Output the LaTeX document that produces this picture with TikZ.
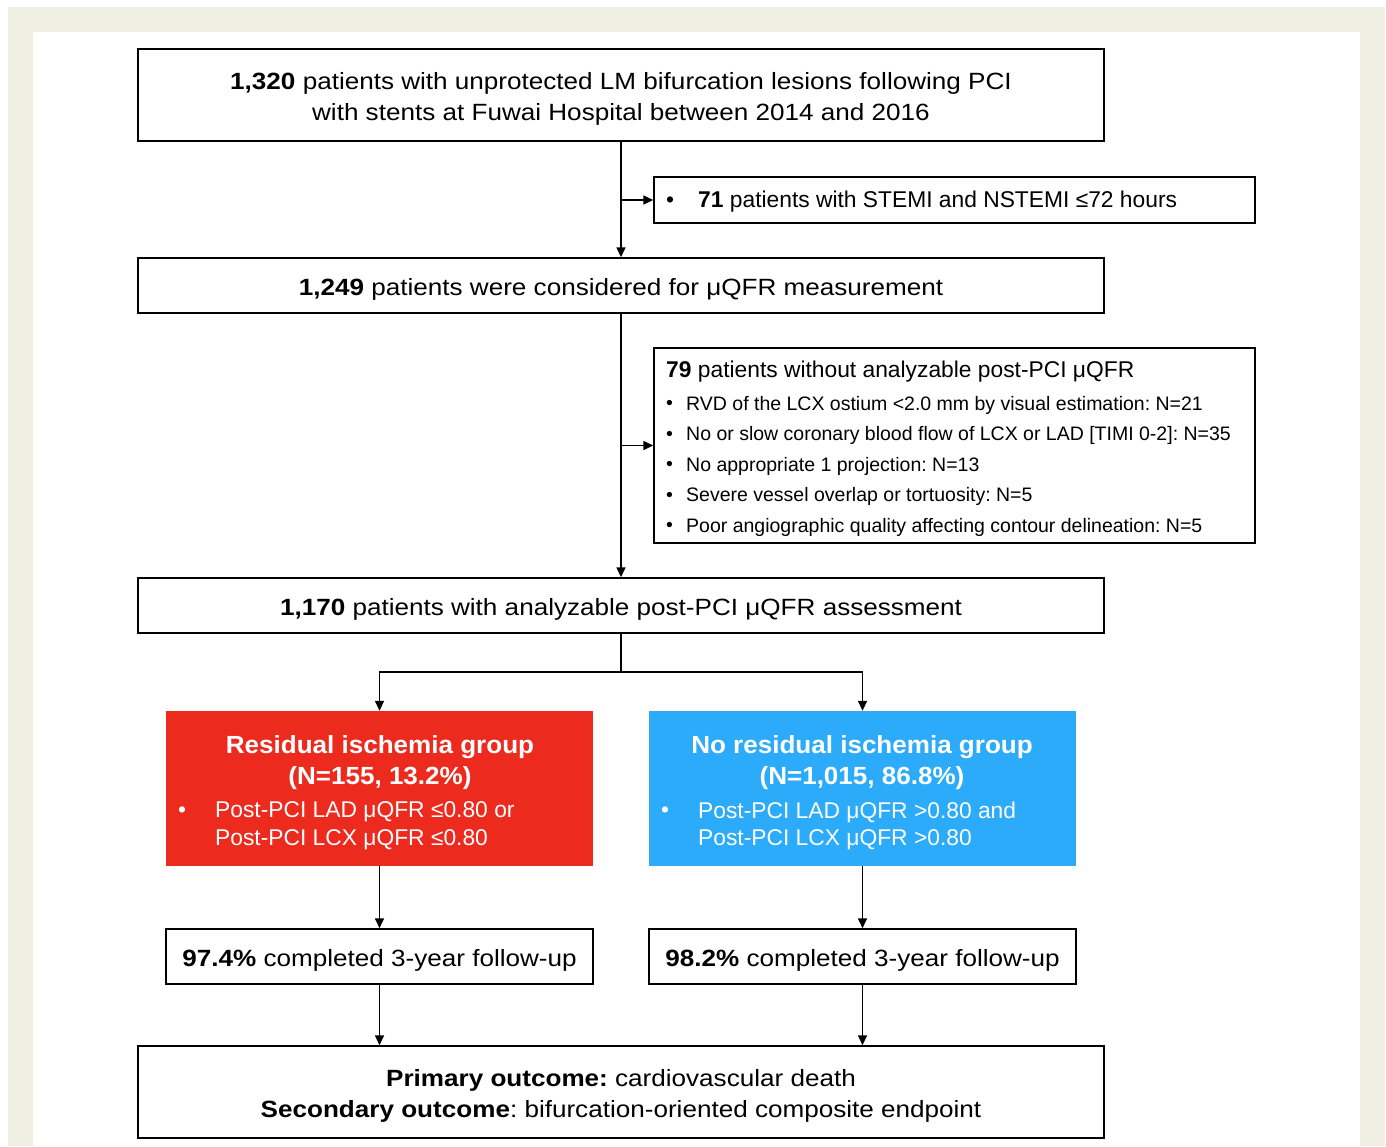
\documentclass[tikz,border=0pt]{standalone}
\usepackage{fontspec}
\setmainfont{Liberation Sans}
\newfontfamily\widef{Liberation Sans}[FakeStretch=1.11]
\newfontfamily\titlef{Liberation Sans}[FakeStretch=1.05]
\usetikzlibrary{arrows.meta}
\definecolor{beige}{HTML}{EFEFE3}
\definecolor{redbox}{HTML}{EC2A1E}
\definecolor{bluebox}{HTML}{2BABFA}
\frenchspacing
\tikzset{
  box/.style={draw=black, line width=1.5pt, rectangle, inner sep=0pt, fill=white},
  colbox/.style={rectangle, inner sep=0pt},
  conn/.style={line width=1.6pt, -{Triangle[length=10pt,width=9pt]}},
  plain/.style={line width=1.6pt},
  bigtxt/.style={font=\frenchspacing\widef\fontsize{23.5}{31}\selectfont, align=center, inner sep=0pt},
  midtxt/.style={font=\frenchspacing\fontsize{22.8}{28}\selectfont, inner sep=0pt, anchor=west},
  smalltxt/.style={font=\frenchspacing\fontsize{19.5}{24}\selectfont, inner sep=0pt, anchor=west},
  whitetitle/.style={font=\frenchspacing\titlef\fontsize{24.8}{31}\selectfont\bfseries, text=white, align=center, inner sep=0pt},
  whitetxt/.style={font=\frenchspacing\fontsize{22.8}{28}\selectfont, text=white, inner sep=0pt, anchor=west},
}
\begin{document}
\begin{tikzpicture}[x=1pt,y=-1pt]
\useasboundingbox (0,0) rectangle (1386,1146);
\fill[white] (0,0) rectangle (1386,1146);
\fill[beige] (8,7) rectangle (1385,1146);
\fill[white] (33,32) rectangle (1360,1146);

% main boxes
\node[box, minimum width=966pt, minimum height=92pt] (b1) at (621,95) {};
\node[bigtxt] (b1t) at (621,99) {\textbf{1,320} patients with unprotected LM bifurcation lesions following PCI\\with stents at Fuwai Hospital between 2014 and 2016};

\node[box, minimum width=601pt, minimum height=46pt] (ex1) at (954.5,200) {};
\node[midtxt] (ex1b) at (666,202) {•};
\node[midtxt] (ex1t) at (698,202) {\textbf{71} patients with STEMI and NSTEMI ≤72 hours};

\node[box, minimum width=966pt, minimum height=55pt] (b2) at (621,285.5) {};
\node[bigtxt] (b2t) at (621,289) {\textbf{1,249} patients were considered for μQFR measurement};

\node[box, minimum width=601pt, minimum height=195pt] (ex2) at (954.5,445.5) {};
\node[midtxt] (ex2h) at (666,372) {\textbf{79} patients without analyzable post-PCI μQFR};
\node[smalltxt] (ex2b1) at (666,405) {•};
\node[smalltxt] (ex2t1) at (686,405) {RVD of the LCX ostium <2.0 mm by visual estimation: N=21};
\node[smalltxt] (ex2b2) at (666,435.5) {•};
\node[smalltxt] (ex2t2) at (686,435.5) {No or slow coronary blood flow of LCX or LAD [TIMI 0-2]: N=35};
\node[smalltxt] (ex2b3) at (666,466) {•};
\node[smalltxt] (ex2t3) at (686,466) {No appropriate 1 projection: N=13};
\node[smalltxt] (ex2b4) at (666,496.5) {•};
\node[smalltxt] (ex2t4) at (686,496.5) {Severe vessel overlap or tortuosity: N=5};
\node[smalltxt] (ex2b5) at (666,527) {•};
\node[smalltxt] (ex2t5) at (686,527) {Poor angiographic quality affecting contour delineation: N=5};

\node[box, minimum width=966pt, minimum height=55pt] (b3) at (621,605.5) {};
\node[bigtxt] (b3t) at (621,609) {\textbf{1,170} patients with analyzable post-PCI μQFR assessment};

% group boxes
\node[colbox, fill=redbox, minimum width=427pt, minimum height=155pt] (red) at (379.5,788.5) {};
\node[whitetitle] (redt) at (380,763) {Residual ischemia group\\(N=155, 13.2\%)};
\node[whitetxt] (redb) at (178,812) {•};
\node[whitetxt] (redl1) at (215,812) {Post-PCI LAD μQFR ≤0.80 or};
\node[whitetxt] (redl2) at (215,840) {Post-PCI LCX μQFR ≤0.80};

\node[colbox, fill=bluebox, minimum width=427pt, minimum height=155pt] (blue) at (862.5,788.5) {};
\node[whitetitle] (bluet) at (862,763) {No residual ischemia group\\(N=1,015, 86.8\%)};
\node[whitetxt] (blueb) at (661,812) {•};
\node[whitetxt] (bluel1) at (698,812) {Post-PCI LAD μQFR >0.80 and};
\node[whitetxt] (bluel2) at (698,840) {Post-PCI LCX μQFR >0.80};

\node[box, minimum width=427pt, minimum height=55pt] (fu1) at (379.5,956.5) {};
\node[bigtxt] (fu1t) at (379.5,960) {\textbf{97.4\%} completed 3-year follow-up};
\node[box, minimum width=427pt, minimum height=55pt] (fu2) at (862.5,956.5) {};
\node[bigtxt] (fu2t) at (862.5,960) {\textbf{98.2\%} completed 3-year follow-up};

\node[box, minimum width=966pt, minimum height=92pt] (out) at (621,1092) {};
\node[bigtxt] (outt) at (621,1096) {\textbf{Primary outcome:} cardiovascular death\\\textbf{Secondary outcome}: bifurcation-oriented composite endpoint};

% connectors
\draw[conn] (b1.south) -- (b2.north);
\draw[conn] (b1.south |- ex1.west) -- (ex1.west);
\draw[conn] (b2.south) -- (b3.north);
\draw[conn] (b2.south |- ex2.west) -- (ex2.west);
\coordinate (split) at (621,672);
\draw[plain] (b3.south) -- (split);
\draw[conn] (split) -| (red.north);
\draw[conn] (split) -| (blue.north);
\draw[conn] (red.south) -- (fu1.north);
\draw[conn] (blue.south) -- (fu2.north);
\draw[conn] (fu1.south) -- (fu1.south |- out.north);
\draw[conn] (fu2.south) -- (fu2.south |- out.north);
\end{tikzpicture}
\end{document}
